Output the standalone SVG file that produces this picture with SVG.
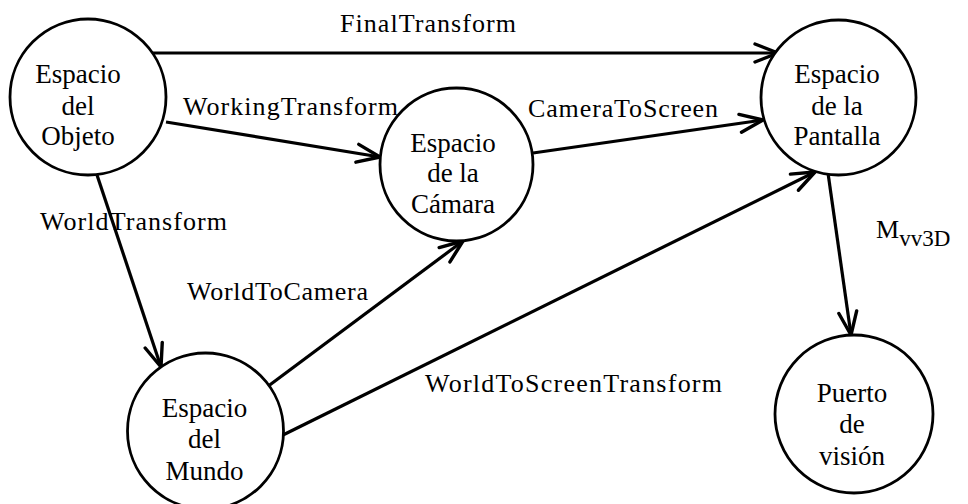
<svg xmlns="http://www.w3.org/2000/svg" width="968" height="504" viewBox="0 0 968 504">
<style>
.node circle{fill:#fff;stroke:#000;stroke-width:2.8}
text{font-family:"Liberation Serif","Times New Roman",serif;font-size:26px;fill:#000}
.nt{text-anchor:middle;font-size:27px}
.edge{stroke:#000;stroke-width:3.2;fill:none;marker-end:url(#arr)}
</style>
<defs>
<marker id="arr" markerUnits="userSpaceOnUse" viewBox="0 0 28 22" refX="26" refY="11" markerWidth="28" markerHeight="22" orient="auto">
<path d="M3,2 L26,11 L3,20" fill="none" stroke="#000" stroke-width="3.4" stroke-linecap="round" stroke-linejoin="round"/>
</marker>
</defs>
<rect width="968" height="504" fill="#fff"/>
<g id="connectors">
<line class="edge" x1="146" y1="53" x2="778" y2="53"/>
<line class="edge" x1="166" y1="122" x2="380" y2="157"/>
<line class="edge" x1="533" y1="153" x2="763" y2="120"/>
<line class="edge" x1="97" y1="175" x2="161" y2="367"/>
<line class="edge" x1="267" y1="387" x2="463" y2="241"/>
<line class="edge" x1="283" y1="435" x2="815" y2="172"/>
<line class="edge" x1="828" y1="173" x2="851" y2="335"/>
<text x="340" y="32" textLength="176" lengthAdjust="spacing">FinalTransform</text>
<text x="183" y="115" textLength="215" lengthAdjust="spacing">WorkingTransform</text>
<text x="528" y="117" textLength="190" lengthAdjust="spacing">CameraToScreen</text>
<text x="40" y="230" textLength="187" lengthAdjust="spacing">WorldTransform</text>
<text x="187" y="300" textLength="181" lengthAdjust="spacing">WorldToCamera</text>
<text x="425" y="392" textLength="297" lengthAdjust="spacing">WorldToScreenTransform</text>
<text x="876" y="238">M<tspan dy="8" font-size="23">vv3D</tspan></text>
</g>
<g id="objeto" class="node">
<circle cx="88" cy="97" r="78"/>
<text class="nt" x="78" y="83">Espacio</text>
<text class="nt" x="78" y="115">del</text>
<text class="nt" x="78" y="145">Objeto</text>
</g>
<g id="camara" class="node">
<circle cx="456.5" cy="164.5" r="76.5"/>
<text class="nt" x="453" y="152">Espacio</text>
<text class="nt" x="453" y="182">de la</text>
<text class="nt" x="453" y="213">Cámara</text>
</g>
<g id="pantalla" class="node">
<circle cx="838.5" cy="97.5" r="77.5"/>
<text class="nt" x="837" y="83">Espacio</text>
<text class="nt" x="837" y="115">de la</text>
<text class="nt" x="837" y="145">Pantalla</text>
</g>
<g id="mundo" class="node">
<circle cx="205.5" cy="431" r="78"/>
<text class="nt" x="204.5" y="417">Espacio</text>
<text class="nt" x="204.5" y="448">del</text>
<text class="nt" x="204.5" y="480">Mundo</text>
</g>
<g id="puerto" class="node">
<circle cx="854" cy="414" r="79"/>
<text class="nt" x="852" y="402">Puerto</text>
<text class="nt" x="852" y="433">de</text>
<text class="nt" x="852" y="465">visión</text>
</g>
</svg>
